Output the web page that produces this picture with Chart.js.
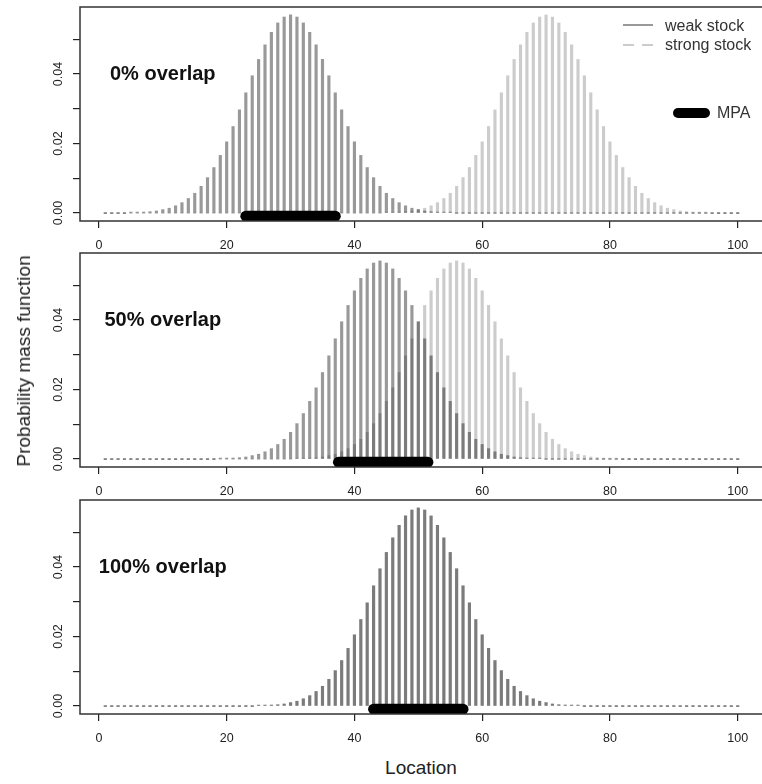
<!DOCTYPE html>
<html>
<head>
<meta charset="utf-8">
<script src="https://cdn.jsdelivr.net/npm/chart.js@4"></script>
<style>
  body { margin: 0; background: #fff; overflow: hidden; }
  #wrap { position: relative; width: 762px; height: 784px; overflow: hidden; font-family: "Liberation Sans", Arial, sans-serif; color: #222; }
  canvas { position: absolute; left: 0; }
  .ytitle { position: absolute; left: 24px; top: 361px; transform: translate(-50%, -50%) rotate(-90deg); font-size: 19px; white-space: nowrap; }
  .xtitle { position: absolute; left: 421px; top: 768px; transform: translate(-50%, -50%); font-size: 19px; white-space: nowrap; }
</style>
</head>
<body>
<div id="wrap">
  <canvas id="panel1" width="770" height="260" style="top:0px"></canvas>
  <canvas id="panel2" width="770" height="260" style="top:246px"></canvas>
  <canvas id="panel3" width="770" height="260" style="top:493px"></canvas>
  <div class="ytitle">Probability mass function</div>
  <div class="xtitle">Location</div>
</div>
<script>
// locations 1..100
const locations = [
    1, 2, 3, 4, 5, 6, 7, 8, 9, 10,
    11, 12, 13, 14, 15, 16, 17, 18, 19, 20,
    21, 22, 23, 24, 25, 26, 27, 28, 29, 30,
    31, 32, 33, 34, 35, 36, 37, 38, 39, 40,
    41, 42, 43, 44, 45, 46, 47, 48, 49, 50,
    51, 52, 53, 54, 55, 56, 57, 58, 59, 60,
    61, 62, 63, 64, 65, 66, 67, 68, 69, 70,
    71, 72, 73, 74, 75, 76, 77, 78, 79, 80,
    81, 82, 83, 84, 85, 86, 87, 88, 89, 90,
    91, 92, 93, 94, 95, 96, 97, 98, 99, 100
];

// 0% overlap
const weakP1 = [
    0, 0, 0, 0, 0.0001, 0.0002, 0.0003, 0.0004, 0.0006, 0.0010,
    0.0014, 0.0021, 0.0030, 0.0042, 0.0057, 0.0077, 0.0102, 0.0131, 0.0166, 0.0205,
    0.0249, 0.0297, 0.0346, 0.0395, 0.0442, 0.0484, 0.0520, 0.0547, 0.0564, 0.0570,
    0.0564, 0.0547, 0.0520, 0.0484, 0.0442, 0.0395, 0.0346, 0.0297, 0.0249, 0.0205,
    0.0166, 0.0131, 0.0102, 0.0077, 0.0057, 0.0042, 0.0030, 0.0021, 0.0014, 0.0010,
    0.0006, 0.0004, 0.0003, 0.0002, 0.0001, 0, 0, 0, 0, 0,
    0, 0, 0, 0, 0, 0, 0, 0, 0, 0,
    0, 0, 0, 0, 0, 0, 0, 0, 0, 0,
    0, 0, 0, 0, 0, 0, 0, 0, 0, 0,
    0, 0, 0, 0, 0, 0, 0, 0, 0, 0
];
const strongP1 = [
    0, 0, 0, 0, 0, 0, 0, 0, 0, 0,
    0, 0, 0, 0, 0, 0, 0, 0, 0, 0,
    0, 0, 0, 0, 0, 0, 0, 0, 0, 0,
    0, 0, 0, 0, 0, 0, 0, 0, 0, 0,
    0, 0, 0, 0, 0.0001, 0.0002, 0.0003, 0.0004, 0.0006, 0.0010,
    0.0014, 0.0021, 0.0030, 0.0042, 0.0057, 0.0077, 0.0102, 0.0131, 0.0166, 0.0205,
    0.0249, 0.0297, 0.0346, 0.0395, 0.0442, 0.0484, 0.0520, 0.0547, 0.0564, 0.0570,
    0.0564, 0.0547, 0.0520, 0.0484, 0.0442, 0.0395, 0.0346, 0.0297, 0.0249, 0.0205,
    0.0166, 0.0131, 0.0102, 0.0077, 0.0057, 0.0042, 0.0030, 0.0021, 0.0014, 0.0010,
    0.0006, 0.0004, 0.0003, 0.0002, 0.0001, 0, 0, 0, 0, 0
];

// 50% overlap
const weakP2 = [
    0, 0, 0, 0, 0, 0, 0, 0, 0, 0,
    0, 0, 0, 0, 0, 0, 0, 0, 0.0001, 0.0002,
    0.0003, 0.0004, 0.0006, 0.0010, 0.0014, 0.0021, 0.0030, 0.0042, 0.0057, 0.0077,
    0.0102, 0.0131, 0.0166, 0.0205, 0.0249, 0.0297, 0.0346, 0.0395, 0.0442, 0.0484,
    0.0520, 0.0547, 0.0564, 0.0570, 0.0564, 0.0547, 0.0520, 0.0484, 0.0442, 0.0395,
    0.0346, 0.0297, 0.0249, 0.0205, 0.0166, 0.0131, 0.0102, 0.0077, 0.0057, 0.0042,
    0.0030, 0.0021, 0.0014, 0.0010, 0.0006, 0.0004, 0.0003, 0.0002, 0.0001, 0,
    0, 0, 0, 0, 0, 0, 0, 0, 0, 0,
    0, 0, 0, 0, 0, 0, 0, 0, 0, 0,
    0, 0, 0, 0, 0, 0, 0, 0, 0, 0
];
const strongP2 = [
    0, 0, 0, 0, 0, 0, 0, 0, 0, 0,
    0, 0, 0, 0, 0, 0, 0, 0, 0, 0,
    0, 0, 0, 0, 0, 0, 0, 0, 0, 0,
    0.0001, 0.0002, 0.0003, 0.0004, 0.0006, 0.0010, 0.0014, 0.0021, 0.0030, 0.0042,
    0.0057, 0.0077, 0.0102, 0.0131, 0.0166, 0.0205, 0.0249, 0.0297, 0.0346, 0.0395,
    0.0442, 0.0484, 0.0520, 0.0547, 0.0564, 0.0570, 0.0564, 0.0547, 0.0520, 0.0484,
    0.0442, 0.0395, 0.0346, 0.0297, 0.0249, 0.0205, 0.0166, 0.0131, 0.0102, 0.0077,
    0.0057, 0.0042, 0.0030, 0.0021, 0.0014, 0.0010, 0.0006, 0.0004, 0.0003, 0.0002,
    0.0001, 0, 0, 0, 0, 0, 0, 0, 0, 0,
    0, 0, 0, 0, 0, 0, 0, 0, 0, 0
];

// 100% overlap
const weakP3 = [
    0, 0, 0, 0, 0, 0, 0, 0, 0, 0,
    0, 0, 0, 0, 0, 0, 0, 0, 0, 0,
    0, 0, 0, 0, 0.0001, 0.0002, 0.0003, 0.0004, 0.0006, 0.0010,
    0.0014, 0.0021, 0.0030, 0.0042, 0.0057, 0.0077, 0.0102, 0.0131, 0.0166, 0.0205,
    0.0249, 0.0297, 0.0346, 0.0395, 0.0442, 0.0484, 0.0520, 0.0547, 0.0564, 0.0570,
    0.0564, 0.0547, 0.0520, 0.0484, 0.0442, 0.0395, 0.0346, 0.0297, 0.0249, 0.0205,
    0.0166, 0.0131, 0.0102, 0.0077, 0.0057, 0.0042, 0.0030, 0.0021, 0.0014, 0.0010,
    0.0006, 0.0004, 0.0003, 0.0002, 0.0001, 0, 0, 0, 0, 0,
    0, 0, 0, 0, 0, 0, 0, 0, 0, 0,
    0, 0, 0, 0, 0, 0, 0, 0, 0, 0
];
const strongP3 = [
    0, 0, 0, 0, 0, 0, 0, 0, 0, 0,
    0, 0, 0, 0, 0, 0, 0, 0, 0, 0,
    0, 0, 0, 0, 0.0001, 0.0002, 0.0003, 0.0004, 0.0006, 0.0010,
    0.0014, 0.0021, 0.0030, 0.0042, 0.0057, 0.0077, 0.0102, 0.0131, 0.0166, 0.0205,
    0.0249, 0.0297, 0.0346, 0.0395, 0.0442, 0.0484, 0.0520, 0.0547, 0.0564, 0.0570,
    0.0564, 0.0547, 0.0520, 0.0484, 0.0442, 0.0395, 0.0346, 0.0297, 0.0249, 0.0205,
    0.0166, 0.0131, 0.0102, 0.0077, 0.0057, 0.0042, 0.0030, 0.0021, 0.0014, 0.0010,
    0.0006, 0.0004, 0.0003, 0.0002, 0.0001, 0, 0, 0, 0, 0,
    0, 0, 0, 0, 0, 0, 0, 0, 0, 0,
    0, 0, 0, 0, 0, 0, 0, 0, 0, 0
];

// MPA extent (location) per panel
const mpaP1 = [23, 37];
const mpaP2 = [37.5, 51.5];
const mpaP3 = [43, 57];
const mpaLevel = -0.0009;

const panelLabels = ['0% overlap', '50% overlap', '100% overlap'];
const legendLabels = ['weak stock', 'strong stock', 'MPA'];

const xTicks = [0, 20, 40, 60, 80, 100];
const yTicks = [0, 0.01, 0.02, 0.03, 0.04, 0.05];
const yTickLabels = ['0.00', '', '0.02', '', '0.04', ''];

const FONT = '"Liberation Sans", Arial, sans-serif';
const WEAK_COLOR = 'rgba(0, 0, 0, 0.4)';
const STRONG_COLOR = 'rgba(0, 0, 0, 0.2)';

const boxPlugin = {
    id: 'box',
    afterDraw(chart) {
        const { ctx, chartArea: a } = chart;
        ctx.save();
        ctx.strokeStyle = '#333';
        ctx.lineWidth = 1.5;
        ctx.strokeRect(a.left, a.top, a.right - a.left, a.bottom - a.top);
        ctx.restore();
    }
};

const panelLabelPlugin = {
    id: 'panelLabel',
    afterDraw(chart, args, opts) {
        const { ctx, scales } = chart;
        ctx.save();
        ctx.font = 'bold 20px ' + FONT;
        ctx.fillStyle = '#111';
        ctx.textAlign = 'center';
        ctx.textBaseline = 'middle';
        ctx.fillText(opts.text, scales.x.getPixelForValue(10), scales.y.getPixelForValue(0.04));
        ctx.restore();
    }
};

const stockLegendPlugin = {
    id: 'stockLegend',
    afterDraw(chart, args, opts) {
        if (!opts.show) return;
        const ctx = chart.ctx;
        ctx.save();
        ctx.lineWidth = 2;
        ctx.strokeStyle = '#999';
        ctx.beginPath();
        ctx.moveTo(623, 25); ctx.lineTo(653, 25);
        ctx.stroke();
        ctx.strokeStyle = '#ccc';
        ctx.setLineDash([11, 8]);
        ctx.beginPath();
        ctx.moveTo(623, 45); ctx.lineTo(653, 45);
        ctx.stroke();
        ctx.setLineDash([]);
        ctx.strokeStyle = '#000';
        ctx.lineWidth = 10;
        ctx.lineCap = 'round';
        ctx.beginPath();
        ctx.moveTo(678, 113); ctx.lineTo(705, 113);
        ctx.stroke();
        ctx.font = '16px ' + FONT;
        ctx.fillStyle = '#333';
        ctx.textBaseline = 'middle';
        ctx.fillText(legendLabels[0], 665, 27);
        ctx.fillText(legendLabels[1], 665, 46);
        ctx.fillText(legendLabels[2], 717, 114);
        ctx.restore();
    }
};

const toPoints = (values) => locations.map((x, i) => ({ x: x, y: values[i] }));

const noScalePadding = (axis) => {
    axis.paddingTop = 0;
    axis.paddingBottom = 0;
    axis.paddingLeft = 0;
    axis.paddingRight = 0;
};

const makePanel = (canvasId, label, weak, strong, mpa, showLegend) => {
    const ctx = document.getElementById(canvasId).getContext('2d');
    new Chart(ctx, {
        type: 'bar',
        data: {
            datasets: [
                {
                    type: 'line',
                    label: 'MPA',
                    data: [{ x: mpa[0], y: mpaLevel }, { x: mpa[1], y: mpaLevel }],
                    borderColor: '#000',
                    borderWidth: 11,
                    borderCapStyle: 'round',
                    pointRadius: 0,
                    order: 0
                },
                {
                    label: 'strong stock',
                    data: toPoints(strong),
                    backgroundColor: STRONG_COLOR,
                    barThickness: 2.5,
                    minBarLength: 1,
                    grouped: false,
                    order: 1
                },
                {
                    label: 'weak stock',
                    data: toPoints(weak),
                    backgroundColor: WEAK_COLOR,
                    barThickness: 2.5,
                    minBarLength: 1,
                    grouped: false,
                    order: 2
                }
            ]
        },
        options: {
            responsive: false,
            animation: false,
            layout: { padding: { top: 7, right: 7, left: 0, bottom: 0 } },
            plugins: {
                legend: { display: false },
                tooltip: { enabled: false },
                panelLabel: { text: label },
                stockLegend: { show: showLegend }
            },
            scales: {
                x: {
                    type: 'linear',
                    offset: false,
                    min: -2.96,
                    max: 103.96,
                    afterBuildTicks: (axis) => { axis.ticks = xTicks.map(v => ({ value: v })); },
                    afterFit: (axis) => { axis.height = 39; noScalePadding(axis); },
                    grid: { offset: false, drawOnChartArea: false, tickLength: 7, color: '#222', lineWidth: 1.2 },
                    border: { display: false },
                    ticks: {
                        autoSkip: false,
                        maxRotation: 0,
                        padding: 10,
                        color: '#222',
                        font: { family: FONT, size: 12.5 }
                    }
                },
                y: {
                    min: -0.00228,
                    max: 0.05928,
                    afterBuildTicks: (axis) => { axis.ticks = yTicks.map(v => ({ value: v })); },
                    afterFit: (axis) => { axis.width = 80; noScalePadding(axis); },
                    grid: { drawOnChartArea: false, tickLength: 7, color: '#222', lineWidth: 1.2 },
                    border: { display: false },
                    ticks: {
                        minRotation: 90,
                        maxRotation: 90,
                        crossAlign: 'center',
                        padding: 2,
                        color: '#222',
                        font: { family: FONT, size: 12.5 },
                        callback: (value, index) => yTickLabels[index]
                    }
                }
            }
        },
        plugins: [boxPlugin, panelLabelPlugin, stockLegendPlugin]
    });
};

makePanel('panel1', panelLabels[0], weakP1, strongP1, mpaP1, true);
makePanel('panel2', panelLabels[1], weakP2, strongP2, mpaP2, false);
makePanel('panel3', panelLabels[2], weakP3, strongP3, mpaP3, false);
</script>
</body>
</html>
